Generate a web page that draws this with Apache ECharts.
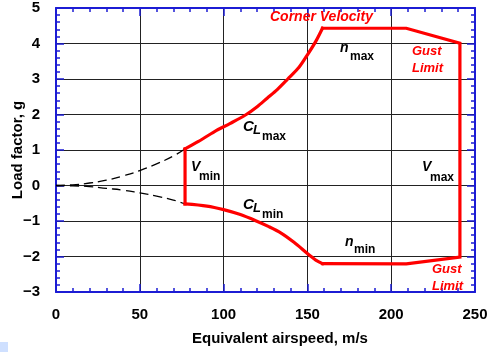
<!DOCTYPE html>
<html>
<head>
<meta charset="utf-8">
<script src="https://cdn.jsdelivr.net/npm/echarts@6/dist/echarts.min.js"></script>
<style>
  html, body { margin: 0; padding: 0; background: #fff; }
  #chart { width: 491px; height: 352px; }
</style>
</head>
<body>
<div id="chart"></div>
<script>
// airspeed (m/s) vs load factor (g)
var stallUpV = [0, 10, 20, 30, 40, 50, 60, 70, 77];
var stallUpN = [0, 0.02, 0.07, 0.15, 0.27, 0.42, 0.61, 0.83, 1.03];
var stallLoV = [0, 10, 20, 30, 40, 50, 60, 70, 77];
var stallLoN = [0, -0.01, -0.03, -0.08, -0.13, -0.21, -0.3, -0.41, -0.52];

// CLmax curve from Vmin to corner velocity
var clMaxV = [77, 85, 94.6, 104, 113.5, 120, 126, 132, 138.3, 145, 150, 155, 159];
var clMaxN = [1.03, 1.24, 1.52, 1.75, 2.0, 2.22, 2.46, 2.7, 3.0, 3.33, 3.68, 4.06, 4.43];
// CLmin curve from Vmin to nmin
var clMinV = [77, 90, 100, 110, 119.5, 127, 134.3, 142, 149.6, 152.2, 155, 159];
var clMinN = [-0.52, -0.58, -0.68, -0.82, -1.0, -1.16, -1.34, -1.6, -1.9, -2.0, -2.1, -2.2];
// straight part: nmax, gust limit, Vmax, gust limit, nmin
var edgeV = [159, 209, 241, 241, 209, 159];
var edgeN = [4.43, 4.43, 4.01, -2.02, -2.21, -2.2];
// Vmin line
var vminV = [77, 77];
var vminN = [1.03, -0.52];

var xTicks = [0, 50, 100, 150, 200, 250];
var yTicks = [-3, -2, -1, 0, 1, 2, 3, 4, 5];

function pairs(xs, ys) {
    var out = [];
    for (var i = 0; i < xs.length; i++) out.push([xs[i], ys[i]]);
    return out;
}

var myChart = echarts.init(document.getElementById("chart"));

var axisBlue = "#1c1cd4";
var red = "#ff0000";
var font = "Liberation Sans, Arial, Helvetica, sans-serif";

function xAxisCfg(pos, labels) {
    return {
        type: "value",
        position: pos,
        min: xTicks[0],
        max: xTicks[xTicks.length - 1],
        interval: 50,
        axisLine: { show: true, onZero: false, lineStyle: { color: axisBlue, width: 2 } },
        axisTick: { show: true, inside: true, length: 8, lineStyle: { color: axisBlue, width: 1.5 } },
        minorTick: { show: true, splitNumber: 5, length: 4, lineStyle: { color: axisBlue, width: 1.5 } },
        axisLabel: {
            show: labels,
            margin: 15,
            color: "#000",
            fontSize: 15,
            fontWeight: "bold",
            fontFamily: font
        },
        splitLine: { show: labels, lineStyle: { color: "#222", width: 1 } }
    };
}

function yAxisCfg(pos, labels) {
    return {
        type: "value",
        position: pos,
        min: yTicks[0],
        max: yTicks[yTicks.length - 1],
        interval: 1,
        name: labels ? "Load factor, g" : "",
        nameLocation: "middle",
        nameGap: 31,
        nameMoveOverlap: false,
        nameTextStyle: { color: "#000", fontSize: 15, fontWeight: "bold", fontFamily: font },
        axisLine: { show: true, onZero: false, lineStyle: { color: axisBlue, width: 2 } },
        axisTick: { show: true, inside: true, length: 8, lineStyle: { color: axisBlue, width: 1.5 } },
        minorTick: { show: true, splitNumber: 5, length: 4, lineStyle: { color: axisBlue, width: 1.5 } },
        axisLabel: {
            show: labels,
            margin: 16,
            color: "#000",
            fontSize: 15,
            fontWeight: "bold",
            fontFamily: font,
            formatter: function (v) { return String(v).replace("-", "\u2212"); }
        },
        splitLine: { show: labels, lineStyle: { color: "#222", width: 1 } }
    };
}

function txt(x, y, s, size, color, italic) {
    return {
        type: "text",
        left: x,
        top: y,
        z: 100,
        style: {
            text: s,
            fill: color || "#000",
            font: (italic ? "italic " : "") + "bold " + size + "px " + font
        }
    };
}

function redLine(xs, ys, smooth) {
    return {
        type: "line",
        data: pairs(xs, ys),
        showSymbol: false,
        smooth: smooth,
        lineStyle: { color: red, width: 3.2, join: "miter", cap: "square" },
        z: 3
    };
}

function dashLine(xs, ys) {
    return {
        type: "line",
        data: pairs(xs, ys),
        showSymbol: false,
        smooth: true,
        lineStyle: { color: "#000", width: 1.3, type: [9, 5] },
        z: 2
    };
}

var option = {
    animation: false,
    grid: { left: 56, right: 16, top: 8, bottom: 60, outerBoundsMode: "none" },
    xAxis: [xAxisCfg("bottom", true), xAxisCfg("top", false)],
    yAxis: [yAxisCfg("left", true), yAxisCfg("right", false)],
    graphic: [
        txt(192, 331, "Equivalent airspeed, m/s", 15, "#000", false),
        txt(270, 10, "Corner Velocity", 14, red, true),
        txt(340, 41, "n", 14, "#000", true),
        txt(350, 51, "max", 12, "#000", false),
        txt(412, 45, "Gust", 13, red, true),
        txt(412, 62, "Limit", 13, red, true),
        txt(243, 119, "C", 15, "#000", true),
        txt(253, 124, "L", 13, "#000", true),
        txt(262, 131, "max", 12, "#000", false),
        txt(191, 160, "V", 14, "#000", true),
        txt(199, 171, "min", 12, "#000", false),
        txt(422, 160, "V", 14, "#000", true),
        txt(430, 172, "max", 12, "#000", false),
        txt(243, 197, "C", 15, "#000", true),
        txt(253, 202, "L", 13, "#000", true),
        txt(262, 209, "min", 12, "#000", false),
        txt(345, 235, "n", 14, "#000", true),
        txt(354, 244, "min", 12, "#000", false),
        txt(432, 263, "Gust", 13, red, true),
        txt(432, 280, "Limit", 13, red, true),
        { type: "rect", left: 0, top: 342, shape: { width: 8, height: 10 }, style: { fill: "#cfe0ff" } }
    ],
    series: [
        dashLine(stallUpV, stallUpN),
        dashLine(stallLoV, stallLoN),
        redLine(clMaxV, clMaxN, 0.3),
        redLine(clMinV, clMinN, 0.3),
        redLine(edgeV, edgeN, false),
        redLine(vminV, vminN, false)
    ]
};

myChart.setOption(option);
window.addEventListener("resize", function () {
    myChart.resize();
});
</script>
</body>
</html>
